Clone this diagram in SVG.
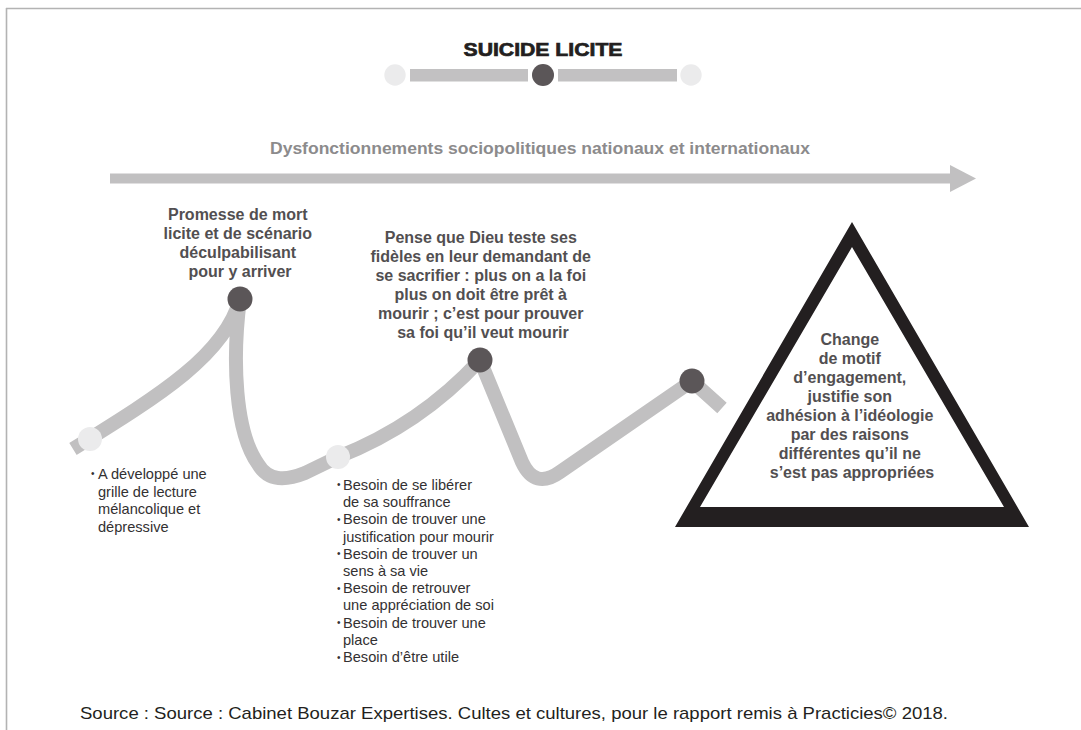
<svg xmlns="http://www.w3.org/2000/svg" width="1081" height="730" viewBox="0 0 1081 730">
  <style>
    .frame { stroke: #b3b3b3; stroke-width: 1.6; fill: none; }
    .track { stroke: #c1c0c1; fill: none; }
    .dot-light { fill: #ebebec; }
    .dot-dark { fill: #5b5658; }
    .label { font-family: "Liberation Sans", Arial, sans-serif; font-weight: bold; font-size: 16px; fill: #524f51; text-anchor: middle; }
    .list { font-family: "Liberation Sans", Arial, sans-serif; font-size: 14.6px; fill: #333132; }
    .bullet { font-family: "Liberation Sans", Arial, sans-serif; font-size: 10px; fill: #333132; }
  </style>

  <rect width="1081" height="730" fill="#ffffff"/>

  <!-- page frame -->
  <g id="frame">
    <line class="frame" x1="6" y1="8.5" x2="1081" y2="8.5"/>
    <line class="frame" x1="6.5" y1="8" x2="6.5" y2="730"/>
  </g>

  <!-- title and stage indicator -->
  <g id="title">
    <text x="543" y="56" text-anchor="middle" textLength="159" lengthAdjust="spacingAndGlyphs" font-family="Liberation Sans, Arial, sans-serif" font-weight="bold" font-size="18.5" fill="#231f20" stroke="#231f20" stroke-width="0.7">SUICIDE LICITE</text>
    <rect x="410" y="69" width="118" height="12.5" fill="#c2c1c2"/>
    <rect x="558" y="69" width="119" height="12.5" fill="#c2c1c2"/>
    <circle class="dot-light" cx="395" cy="75" r="10.7"/>
    <circle class="dot-dark" cx="543" cy="75" r="11"/>
    <circle class="dot-light" cx="691" cy="75" r="10.7"/>
  </g>

  <!-- context arrow -->
  <g id="context">
    <text x="540" y="154" text-anchor="middle" textLength="540" lengthAdjust="spacingAndGlyphs" font-family="Liberation Sans, Arial, sans-serif" font-weight="bold" font-size="16" fill="#8c8b8c">Dysfonctionnements sociopolitiques nationaux et internationaux</text>
  </g>

  <g id="connectors">
    <rect x="110" y="173.5" width="842" height="10" fill="#c1c0c1"/>
    <polygon points="950,165 976,178.5 950,192" fill="#c1c0c1"/>
    <path class="track" stroke-width="14" stroke-linejoin="round"
          d="M73,449 C160,395 225,355 240,299 C232,360 235,432 258,464 C268,481 285,481 305,473 L338,457 Q420,425 480,360 L522,462 Q535,490 560,472 L692,381 L722,408"/>
  </g>

  <!-- stage points -->
  <g id="point-1">
    <circle class="dot-light" cx="90" cy="439" r="12"/>
    <text class="bullet" x="91" y="477">•</text>
    <text class="list">
      <tspan x="98" y="479">A développé une</tspan>
      <tspan x="98" y="496.5">grille de lecture</tspan>
      <tspan x="98" y="514">mélancolique et</tspan>
      <tspan x="98" y="531.5">dépressive</tspan>
    </text>
  </g>

  <g id="point-2">
    <circle class="dot-dark" cx="240" cy="299" r="12.5"/>
    <text class="label">
      <tspan x="240" y="220">Promesse de mort</tspan>
      <tspan x="240" y="239">licite et de scénario</tspan>
      <tspan x="240" y="258">déculpabilisant</tspan>
      <tspan x="240" y="277">pour y arriver</tspan>
    </text>
  </g>

  <g id="point-3">
    <circle class="dot-light" cx="338" cy="457" r="12"/>
    <text class="bullet" x="337" y="488">•</text>
    <text class="bullet" x="337" y="522.5">•</text>
    <text class="bullet" x="337" y="557">•</text>
    <text class="bullet" x="337" y="591.5">•</text>
    <text class="bullet" x="337" y="626">•</text>
    <text class="bullet" x="337" y="660.5">•</text>
    <text class="list">
      <tspan x="343" y="490">Besoin de se libérer</tspan>
      <tspan x="343" y="507.2">de sa souffrance</tspan>
      <tspan x="343" y="524.4">Besoin de trouver une</tspan>
      <tspan x="343" y="541.6">justification pour mourir</tspan>
      <tspan x="343" y="558.8">Besoin de trouver un</tspan>
      <tspan x="343" y="576">sens à sa vie</tspan>
      <tspan x="343" y="593.2">Besoin de retrouver</tspan>
      <tspan x="343" y="610.4">une appréciation de soi</tspan>
      <tspan x="343" y="627.6">Besoin de trouver une</tspan>
      <tspan x="343" y="644.8">place</tspan>
      <tspan x="343" y="662">Besoin d’être utile</tspan>
    </text>
  </g>

  <g id="point-4">
    <circle class="dot-dark" cx="480" cy="360" r="12.5"/>
    <text class="label">
      <tspan x="483" y="243">Pense que Dieu teste ses</tspan>
      <tspan x="483" y="262">fidèles en leur demandant de</tspan>
      <tspan x="483" y="281">se sacrifier : plus on a la foi</tspan>
      <tspan x="483" y="300">plus on doit être prêt à</tspan>
      <tspan x="483" y="319">mourir ; c’est pour prouver</tspan>
      <tspan x="483" y="338">sa foi qu’il veut mourir</tspan>
    </text>
  </g>

  <g id="point-5">
    <circle class="dot-dark" cx="692" cy="381" r="12.5"/>
  </g>

  <!-- outcome triangle -->
  <g id="outcome">
    <path fill="#231f20" fill-rule="evenodd"
          d="M852,222 L1029,527 L675,527 Z M852,247 L700,507 L1004,507 Z"/>
    <text class="label">
      <tspan x="852" y="345">Change</tspan>
      <tspan x="852" y="364">de motif</tspan>
      <tspan x="852" y="383">d’engagement,</tspan>
      <tspan x="852" y="402">justifie son</tspan>
      <tspan x="852" y="421">adhésion à l’idéologie</tspan>
      <tspan x="852" y="440">par des raisons</tspan>
      <tspan x="852" y="459">différentes qu’il ne</tspan>
      <tspan x="852" y="478">s’est pas appropriées</tspan>
    </text>
  </g>

  <g id="source">
    <text x="80" y="719" textLength="868" lengthAdjust="spacingAndGlyphs" font-family="Liberation Sans, Arial, sans-serif" font-size="17" fill="#231f20">Source : Source : Cabinet Bouzar Expertises. Cultes et cultures, pour le rapport remis à Practicies© 2018.</text>
  </g>
</svg>
